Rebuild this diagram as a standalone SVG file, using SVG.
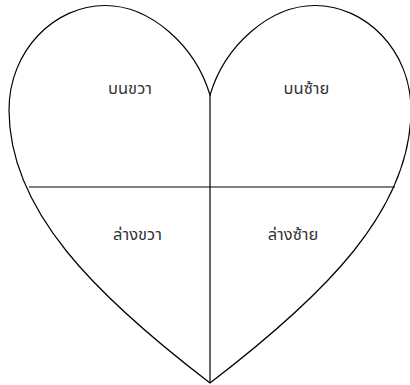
<svg xmlns="http://www.w3.org/2000/svg" width="410" height="385" viewBox="0 0 410 385">
<style>
.edge{fill:none;stroke:#000;stroke-width:1.2}
.lbl{font-family:Tahoma,"Noto Sans Thai","DejaVu Sans","Liberation Sans",sans-serif;font-size:16.5px;fill:#333;text-anchor:middle}
</style>
<rect width="410" height="385" fill="#fff"/>
<g id="heart">
<path class="edge" d="M210,95 C195,45 150,5.5 105,5.5 C55,5.5 9,50 9,110 C9,210 95,295 210,383 C325,295 411,210 411,110 C411,50 365,5.5 315,5.5 C270,5.5 225,45 210,95 Z"/>
</g>
<g id="connectors">
<line class="edge" x1="210" y1="95" x2="210" y2="383"/>
<line class="edge" x1="29" y1="187" x2="395" y2="187"/>
</g>
<g id="top-right-label"><text class="lbl" x="130" y="94">บนขวา</text></g>
<g id="top-left-label"><text class="lbl" x="306.5" y="94">บนซ้าย</text></g>
<g id="bottom-right-label"><text class="lbl" x="137.5" y="240">ล่างขวา</text></g>
<g id="bottom-left-label"><text class="lbl" x="293" y="240">ล่างซ้าย</text></g>
</svg>
